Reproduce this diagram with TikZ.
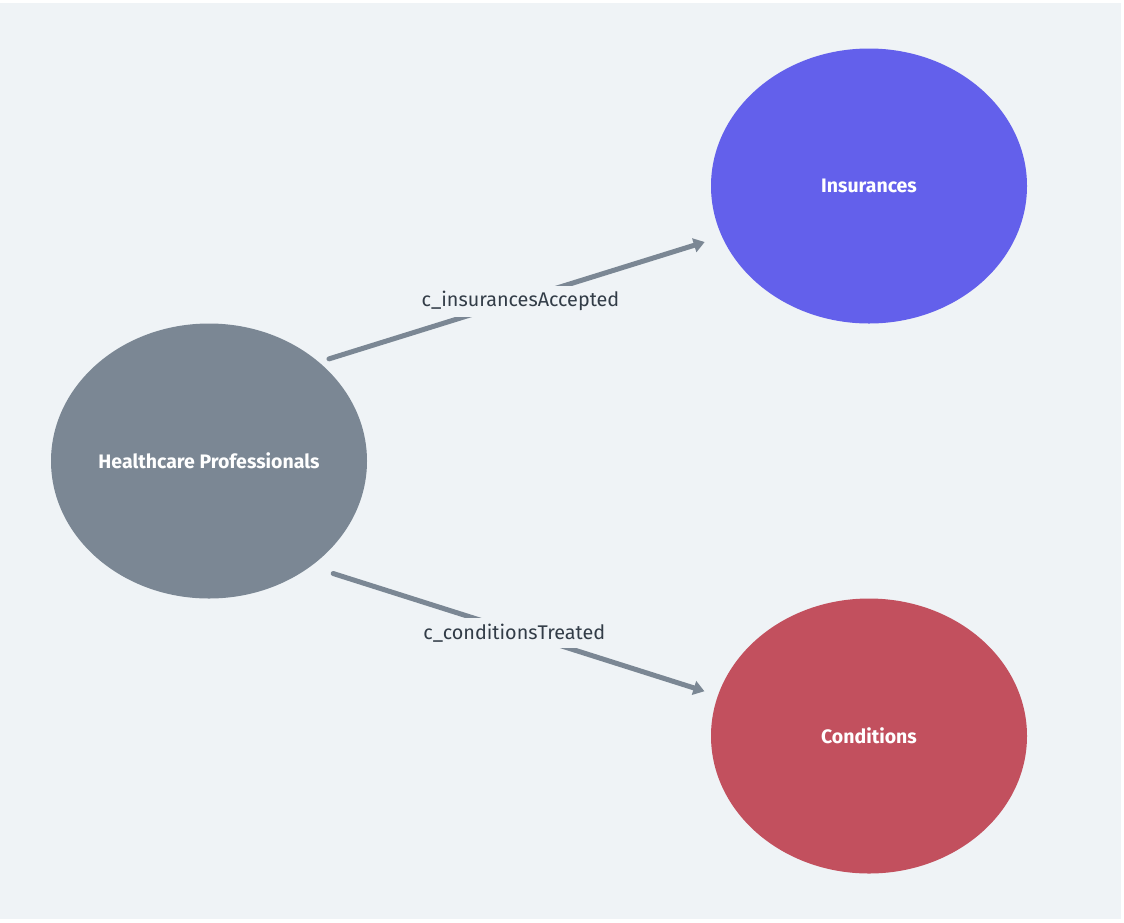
\documentclass[tikz,border=0pt]{standalone}
\usepackage{fontspec}
\setmainfont{Fira Sans}
\usetikzlibrary{arrows.meta,shapes.geometric}
\definecolor{bg}{HTML}{EFF3F6}
\definecolor{slate}{HTML}{7B8794}
\definecolor{indigo}{HTML}{6360EB}
\definecolor{rose}{HTML}{C2505E}
\definecolor{ink}{HTML}{323C47}
\begin{document}
\begin{tikzpicture}[x=1pt,y=-1pt,
  entity/.style={ellipse, draw=none, minimum width=316pt, minimum height=275pt, inner sep=0pt,
    text=white, font=\fontsize{19.5}{22}\selectfont\bfseries},
  rel/.style={draw=slate, line width=5pt, line cap=round, -{Triangle[length=11pt,width=14pt]}},
  rellabel/.style={fill=bg, text=ink, inner sep=6pt, yshift=-2pt, font=\fontsize{19.8}{22}\selectfont}]
\useasboundingbox (0,0) rectangle (1124,922);
\fill[white] (0,0) rectangle (1124,922);
\fill[bg] (0,3) rectangle (1121,919);
\node [entity, fill=slate] (hp) at (209,461) {Healthcare Professionals};
\node [entity, fill=indigo] (ins) at (869,186) {Insurances};
\node [entity, fill=rose] (cond) at (869,736) {Conditions};
\draw [rel, shorten <=10.5pt, shorten >=18pt] (hp.42.5) -- node [rellabel] {c\_insurancesAccepted} (ins.199);
\draw [rel, shorten <=23.5pt, shorten >=14pt] (hp.314.4) -- node [rellabel] {c\_conditionsTreated} (cond.165);
\end{tikzpicture}
\end{document}
